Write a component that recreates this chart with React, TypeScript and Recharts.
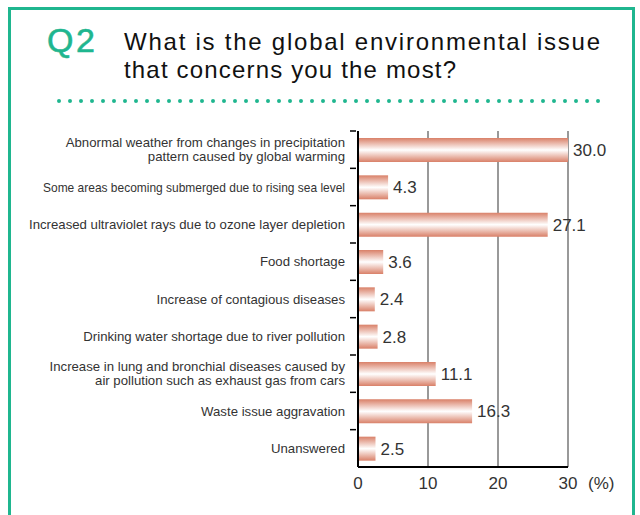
import { BarChart, Bar, XAxis, YAxis, CartesianGrid, LabelList } from "recharts"

const issues = [
  "Abnormal weather from changes in precipitation\npattern caused by global warming",
  "Some areas becoming submerged due to rising sea level",
  "Increased ultraviolet rays due to ozone layer depletion",
  "Food shortage",
  "Increase of contagious diseases",
  "Drinking water shortage due to river pollution",
  "Increase in lung and bronchial diseases caused by\nair pollution such as exhaust gas from cars",
  "Waste issue aggravation",
  "Unanswered",
]
const shares = [30.0, 4.3, 27.1, 3.6, 2.4, 2.8, 11.1, 16.3, 2.5]
const xTicks = [0, 10, 20, 30]

const data = issues.map((issue, i) => ({ issue, share: shares[i] }))

const GREEN = "#1fb68f"
const FONT = "'Liberation Sans', Arial, sans-serif"
const BAND = 336 / issues.length
const LABEL_SIZE = 13.2
// lines wider than this get squeezed, like the printed original
const LABEL_LIMIT = 325
const LABEL_SQUEEZED = 302

const measurer = typeof document !== "undefined" ? document.createElement("canvas").getContext("2d") : null
function textWidth(s: string) {
  if (!measurer) return 0
  measurer.font = `${LABEL_SIZE}px 'Liberation Sans'`
  return measurer.measureText(s).width
}

function IssueTick({ x, y, payload }: any) {
  const lines = String(payload.value).split("\n")
  const lh = 14
  const y0 = y - ((lines.length - 1) * lh) / 2
  const tx = x - 5
  return (
    <g>
      <line x1={x} x2={x + 6} y1={y - BAND / 2} y2={y - BAND / 2} stroke="#000" strokeWidth={1.5} />
      {lines.map((l, i) => {
        const tooWide = textWidth(l) > LABEL_LIMIT
        return (
          <text
            key={i}
            x={tx}
            y={y0 + i * lh}
            textAnchor="end"
            dominantBaseline="central"
            fontSize={LABEL_SIZE}
            fill="#333"
            fontFamily={FONT}
            textLength={tooWide ? LABEL_SQUEEZED : undefined}
            lengthAdjust={tooWide ? "spacingAndGlyphs" : undefined}
          >
            {l}
          </text>
        )
      })}
    </g>
  )
}

function PercentTick({ x, y, payload }: any) {
  return (
    <g>
      <text x={x} y={y + 14} textAnchor="middle" fontSize={17} fill="#333" fontFamily={FONT}>
        {payload.value}
      </text>
      {payload.value === 30 && (
        <text x={x + 20} y={y + 14} fontSize={17} fill="#333" fontFamily={FONT}>
          (%)
        </text>
      )}
    </g>
  )
}

export default function App() {
  return (
    <div style={{ position: "absolute", left: 0, top: 0, width: 640, height: 515, background: "#fff", fontFamily: FONT }}>
      <svg width={640} height={515} style={{ position: "absolute", left: 0, top: 0 }}>
        <path d="M9.5 530 V8.5 H633.5 V530" fill="none" stroke={GREEN} strokeWidth={3} />
        <line x1={59} x2={609} y1={101} y2={101} stroke={GREEN} strokeWidth={4} strokeLinecap="round" strokeDasharray="0 11" />
        <text x={47} y={52} fontSize={34} fill={GREEN} fontFamily={FONT} letterSpacing={2.5} stroke={GREEN} strokeWidth={0.6}>
          Q2
        </text>
        <text x={124} y={50} fontSize={24} fill="#111" fontFamily={FONT} textLength={476} lengthAdjust="spacing">
          What is the global environmental issue
        </text>
        <text x={124} y={78} fontSize={24} fill="#111" fontFamily={FONT} textLength={332} lengthAdjust="spacing">
          that concerns you the most?
        </text>
      </svg>
      <div style={{ position: "absolute", left: 0, top: 0 }}>
        <BarChart
          width={640}
          height={515}
          data={data}
          layout="vertical"
          margin={{ top: 131, right: 72, left: 0, bottom: 0 }}
          barCategoryGap={0}
        >
          <defs>
            <linearGradient id="barShade" x1="0" y1="0" x2="0" y2="1">
              <stop offset="0%" stopColor="#d98068" />
              <stop offset="50%" stopColor="#ffffff" />
              <stop offset="100%" stopColor="#d98068" />
            </linearGradient>
          </defs>
          <CartesianGrid horizontal={false} stroke="#555" strokeWidth={1.2} />
          <XAxis
            type="number"
            domain={[0, 30]}
            ticks={xTicks}
            height={48}
            tickLine={false}
            axisLine={{ stroke: "#000", strokeWidth: 2 }}
            tick={<PercentTick />}
            allowDataOverflow
          />
          <YAxis
            type="category"
            dataKey="issue"
            width={358}
            tickLine={false}
            axisLine={{ stroke: "#000", strokeWidth: 2 }}
            tick={<IssueTick />}
            interval={0}
          />
          <Bar dataKey="share" fill="url(#barShade)" barSize={24} isAnimationActive={false}>
            <LabelList
              dataKey="share"
              position="right"
              offset={5}
              fontSize={17}
              fill="#333"
              fontFamily={FONT}
              formatter={(v: any) => Number(v).toFixed(1)}
            />
          </Bar>
        </BarChart>
      </div>
    </div>
  )
}
